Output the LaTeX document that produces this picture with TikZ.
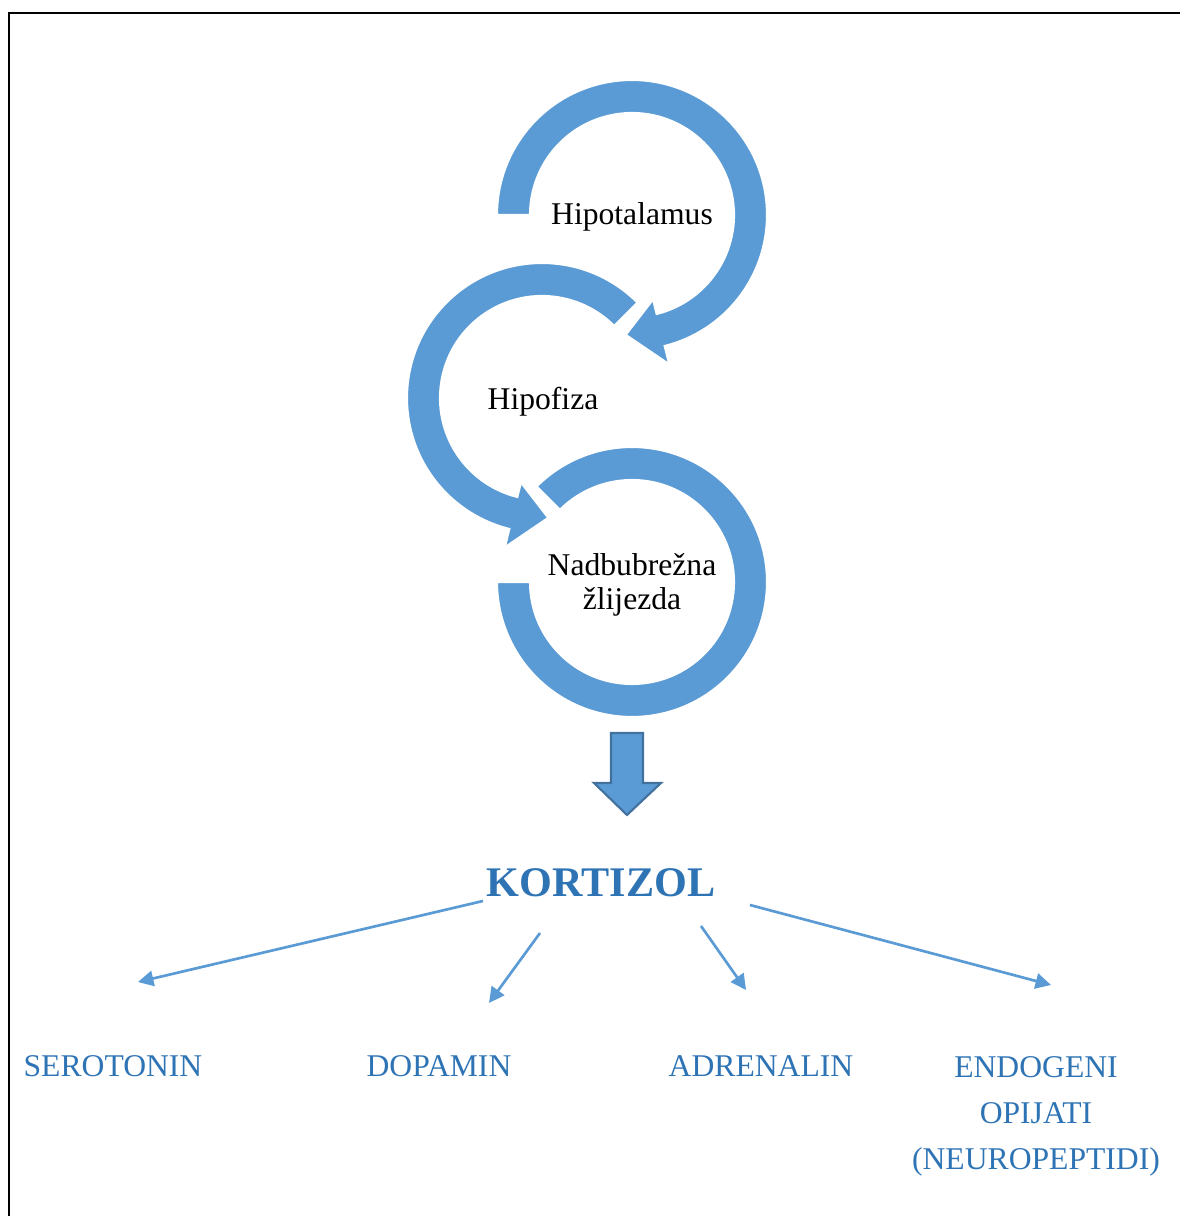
\documentclass[tikz,border=0pt]{standalone}
\usepackage{fontspec}
\setmainfont{Liberation Serif}
\usetikzlibrary{arrows.meta,calc}
\definecolor{ringblau}{HTML}{5B9BD5}
\definecolor{textblau}{HTML}{2E74B5}
\definecolor{randblau}{HTML}{41719C}
\tikzset{
	ring/.style={fill=ringblau, draw=white, line width=1.5pt},
	organ/.style={font=\fontsize{22.5}{24}\selectfont, align=center, text=black},
	stoff/.style={font=\fontsize{22.5}{32.7}\selectfont, text=textblau, align=center},
	pfeil/.style={ringblau, line width=1.9pt, -{Triangle[length=11pt,width=11pt]}}
}

\begin{document}
\begin{tikzpicture}[x=0.025cm,y=0.025cm]
\useasboundingbox (0,0) rectangle (1180,1216);
\draw[black, line width=1.4pt] (9,0) -- (9,1203) -- (1180,1203);
% Kreispfeile
\filldraw[ring, shift={(632,1001)}] (180:102) -- (180:135) arc[start angle=180, end angle=-76, radius=135] -- (-76:154) -- (-93:120) -- (-76:87) -- (-76:102) arc[start angle=-76, end angle=180, radius=102] -- cycle;
\filldraw[ring, shift={(542,818)}] (45:102) -- (45:135) arc[start angle=45, end angle=256, radius=135] -- (256:154) -- (273:120) -- (256:87) -- (256:102) arc[start angle=256, end angle=45, radius=102] -- cycle;
\filldraw[ring, shift={(632,634)}] (135:102) -- (135:135) arc[start angle=135, end angle=-180, radius=135] -- (180:102) arc[start angle=-180, end angle=135, radius=102] -- cycle;
\node[organ] (hypo) at (632,999) {Hipotalamus};
\node[organ] (hypof) at (543,814) {Hipofiza};
\node[organ] (nadb) at (632,631) {Nadbubrežna\\žlijezda};
% Blockpfeil
\filldraw[fill=ringblau, draw=randblau, line width=1.5pt] (611,483) -- (643,483) -- (643,433) -- (661,433) -- (627,401) -- (594,433) -- (611,433) -- cycle;
\node[text=textblau, font=\fontsize{30}{32}\selectfont\bfseries] (kortizol) at (601,333) {KORTIZOL};
\node[stoff] (sero) at (113,150) {SEROTONIN};
\node[stoff] (dopa) at (439,150) {DOPAMIN};
\node[stoff] (adre) at (761,150) {ADRENALIN};
\node[stoff] (endo) at (1036,100) {ENDOGENI\\OPIJATI\\(NEUROPEPTIDI)};
\coordinate (kA) at (483,315);
\coordinate (kB) at (540,283);
\coordinate (kC) at (701,290);
\coordinate (kD) at (750,311);
\coordinate (seroA) at (138,234);
\coordinate (dopaA) at (489,213);
\coordinate (adreA) at (746,226);
\coordinate (endoA) at (1051,231);
\draw[pfeil] (kA) -- (seroA);
\draw[pfeil] (kB) -- (dopaA);
\draw[pfeil] (kC) -- (adreA);
\draw[pfeil] (kD) -- (endoA);
\end{tikzpicture}
\end{document}
